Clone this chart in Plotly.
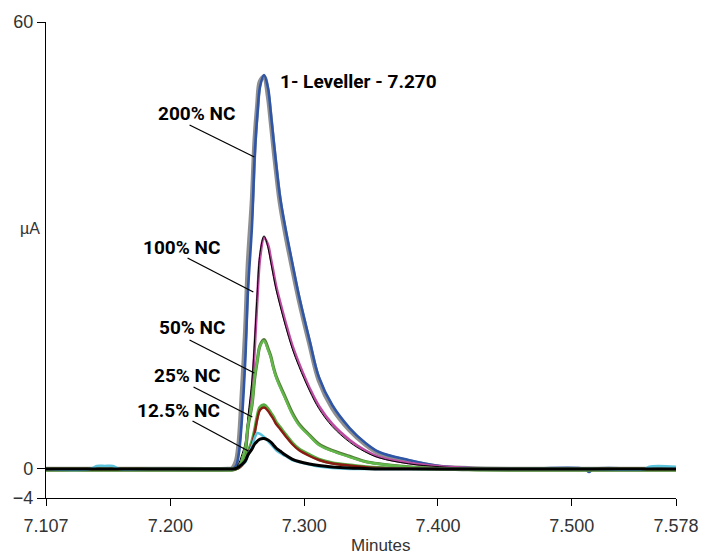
import plotly.graph_objects as go

# ---------------- data ----------------
minutes = [7.107, 7.140, 7.145, 7.151, 7.157, 7.162, 7.185, 7.243, 7.246, 7.249,
           7.251, 7.253, 7.256, 7.258, 7.261, 7.263, 7.265, 7.267, 7.270, 7.273,
           7.275, 7.277, 7.279, 7.282, 7.286, 7.291, 7.296, 7.304, 7.311, 7.321,
           7.334, 7.345, 7.356, 7.378, 7.401, 7.423, 7.460, 7.510, 7.513, 7.516,
           7.555, 7.558, 7.578]

nc200_a = [-0.1, -0.1, -0.1, -0.1, -0.1, -0.1, -0.1, -0.1, -0.05, 0.9,
           3.2, 8.5, 18.5, 27.5, 36.0, 44.0, 48.8, 52.0, 52.6, 50.0,
           46.8, 43.3, 40.0, 35.6, 31.5, 27.0, 22.7, 16.7, 11.8, 8.1,
           5.1, 3.3, 2.0, 0.95, 0.2, 0.0, -0.1, -0.1, -0.1, -0.1,
           -0.1, -0.1, -0.1]
nc200_b = [-0.1, -0.1, -0.1, -0.1, -0.1, -0.1, -0.1, -0.1, -0.1, 0.30,
           1.78, 5.41, 14.56, 23.83, 32.57, 41.85, 47.50, 51.26, 52.87, 51.13,
           47.90, 44.40, 41.04, 36.47, 32.30, 27.73, 23.29, 17.24, 12.27, 8.50,
           5.41, 3.53, 2.19, 1.11, 0.30, 0.03, -0.1, -0.1, -0.5, -0.1,
           -0.1, -0.1, -0.1]
nc100_a = [-0.1, -0.1, -0.1, -0.1, -0.1, -0.1, -0.1, -0.1, -0.1, -0.03,
           0.30, 0.84, 2.19, 5.55, 10.52, 16.17, 22.89, 28.27, 30.96, 30.02,
           28.27, 26.39, 24.50, 22.35, 19.66, 16.57, 14.15, 10.79, 8.37, 5.95,
           3.80, 2.45, 1.51, 0.71, 0.24, 0.03, -0.1, -0.1, -0.1, -0.1,
           -0.1, -0.1, -0.1]
nc100_b = [-0.1, -0.1, -0.1, -0.1, -0.1, -0.1, -0.1, -0.1, -0.1, 0.1,
           0.6, 1.6, 3.5, 7.0, 12.0, 17.5, 24.0, 29.0, 31.27, 29.6,
           27.7, 25.8, 24.0, 21.8, 19.1, 16.1, 13.7, 10.4, 8.0, 5.6,
           3.5, 2.25, 1.4, 0.6, 0.2, 0.0, -0.1, -0.1, -0.1, -0.1,
           -0.1, -0.1, -0.1]
nc50_a = [-0.25, -0.25, -0.25, -0.25, -0.25, -0.25, -0.25, -0.25, -0.25, -0.1,
          0.1, 0.7, 2.5, 5.6, 8.5, 12.1, 14.5, 16.5, 17.3, 16.1,
          15.1, 13.6, 12.4, 11.1, 9.5, 7.5, 6.0, 4.45, 3.25, 2.4,
          1.6, 0.95, 0.6, 0.2, -0.05, -0.2, -0.25, -0.25, -0.25, -0.25,
          -0.25, -0.25, -0.25]
nc50_b = [-0.25, -0.25, -0.25, -0.25, -0.25, -0.25, -0.25, -0.25, -0.25, -0.03,
          0.17, 0.84, 2.72, 5.82, 8.64, 12.27, 14.56, 16.44, 17.11, 15.90,
          14.96, 13.48, 12.27, 10.92, 9.31, 7.29, 5.82, 4.34, 3.13, 2.32,
          1.51, 0.91, 0.57, 0.17, -0.03, -0.2, -0.25, -0.25, -0.25, -0.25,
          -0.25, -0.25, -0.25]
nc25_a = [-0.1, -0.1, -0.1, -0.1, -0.1, -0.1, -0.1, -0.1, -0.1, -0.05,
          0.1, 0.45, 1.2, 2.2, 3.6, 5.1, 7.0, 8.2, 8.5, 8.0,
          7.45, 6.9, 6.2, 5.5, 4.55, 3.45, 2.6, 1.8, 1.2, 0.72,
          0.42, 0.2, 0.06, -0.02, -0.1, -0.1, -0.1, -0.1, -0.1, -0.1,
          -0.1, -0.1, -0.1]
nc25_b = [-0.1, -0.1, -0.1, -0.1, -0.1, -0.1, -0.1, -0.1, -0.1, -0.1,
          0.03, 0.30, 0.98, 1.92, 3.26, 4.74, 6.62, 7.83, 8.17, 7.70,
          7.16, 6.62, 5.95, 5.28, 4.34, 3.26, 2.45, 1.65, 1.11, 0.64,
          0.37, 0.17, 0.03, -0.03, -0.1, -0.1, -0.1, -0.1, -0.1, -0.1,
          -0.1, -0.1, -0.1]
nc12_a = [-0.1, -0.1, 0.3, 0.3, 0.3, -0.1, -0.1, -0.1, -0.1, -0.03,
          0.17, 0.44, 0.84, 1.78, 2.99, 4.07, 4.74, 4.61, 4.20, 3.66,
          3.26, 2.86, 2.45, 2.05, 1.65, 1.11, 0.84, 0.50, 0.24, 0.03,
          -0.1, -0.1, -0.1, -0.1, -0.1, -0.1, -0.1, -0.1, -0.1, -0.1,
          -0.1, 0.2, 0.2]
nc12_b = [-0.1, -0.1, -0.1, -0.1, -0.1, -0.1, -0.1, -0.1, -0.1, -0.03,
          0.17, 0.44, 0.98, 1.78, 2.59, 3.26, 3.66, 3.93, 4.00, 3.80,
          3.53, 3.13, 2.72, 2.32, 1.78, 1.24, 0.91, 0.57, 0.37, 0.17,
          0.03, -0.03, -0.1, -0.1, -0.1, -0.1, -0.1, -0.1, -0.1, -0.1,
          -0.1, -0.1, -0.1]

series = [
    ("200% NC (a)", nc200_a, "#8f8f8f", 4.5),
    ("200% NC (b)", nc200_b, "#2f56a6", 2.6),
    ("100% NC (a)", nc100_a, "#bc4ca2", 2.8),
    ("100% NC (b)", nc100_b, "#000000", 1.0),
    ("50% NC (a)", nc50_a, "#557a3a", 3.2),
    ("50% NC (b)", nc50_b, "#62b84a", 2.4),
    ("25% NC (a)", nc25_a, "#55ab40", 3.4),
    ("25% NC (b)", nc25_b, "#8a1a12", 2.4),
    ("12.5% NC (a)", nc12_a, "#5cc3dc", 2.6),
    ("12.5% NC (b)", nc12_b, "#000000", 3.0),
]

y_ticks = [-4, 0, 60]
x_ticks = [7.107, 7.200, 7.300, 7.400, 7.500, 7.578]
x_tick_text = ["7.107", "7.200", "7.300", "7.400", "7.500", "7.578"]

peak_label = "1- Leveller - 7.270"
conc_labels = ["200% NC", "100% NC", "50% NC", "25% NC", "12.5% NC"]

# ---------------- figure ----------------
W, H = 711, 555
L, R, T, B = 46, 33, 22, 57
pw, ph = W - L - R, H - T - B


def px(x):
    return (x - L) / pw


def py(y):
    return (H - B - y) / ph


fig = go.Figure()
for name, vals, color, width in series:
    fig.add_trace(go.Scatter(
        x=minutes, y=vals, mode="lines", name=name,
        line=dict(color=color, width=width, shape="spline", smoothing=1.0),
        showlegend=False, hoverinfo="skip"))

bold_font = dict(family="Roboto, Liberation Sans, sans-serif", weight="bold",
                 size=19, color="#000000")

annotations = [
    dict(text=peak_label, x=px(279), y=py(81), xanchor="left"),
    dict(text=conc_labels[0], x=px(156), y=py(113), xanchor="left"),
    dict(text=conc_labels[1], x=px(141), y=py(247), xanchor="left"),
    dict(text=conc_labels[2], x=px(157), y=py(328), xanchor="left"),
    dict(text=conc_labels[3], x=px(152), y=py(375), xanchor="left"),
    dict(text=conc_labels[4], x=px(135), y=py(410), xanchor="left"),
]
for a in annotations:
    a.update(xref="paper", yref="paper", yanchor="middle", showarrow=False, font=bold_font)

plain_font = dict(family="Liberation Sans, Arial, sans-serif", size=17, color="#333333")
annotations.append(dict(text="µA", x=px(30), y=py(228), xref="paper", yref="paper",
                        xanchor="center", yanchor="middle", showarrow=False,
                        font=dict(family="Liberation Sans, Arial, sans-serif", size=16, color="#333333")))
annotations.append(dict(text="Minutes", x=px(382), y=py(545), xref="paper", yref="paper",
                        xanchor="center", yanchor="middle", showarrow=False, font=plain_font))

leaders = [((190, 125), (255, 157)),
           ((188, 258), (254, 292)),
           ((190, 340), (255, 373)),
           ((194, 387), (253, 417)),
           ((193, 421), (249, 451))]
shapes = []
for (x0, y0), (x1, y1) in leaders:
    shapes.append(dict(type="line", xref="paper", yref="paper",
                       x0=px(x0), y0=py(y0), x1=px(x1), y1=py(y1),
                       line=dict(color="#000000", width=1.3)))

tick_font = dict(family="Liberation Sans, Arial, sans-serif", size=18, color="#333333")

fig.update_layout(
    width=W, height=H,
    margin=dict(l=L, r=R, t=T, b=B),
    paper_bgcolor="white", plot_bgcolor="white",
    annotations=annotations, shapes=shapes,
    xaxis=dict(range=[7.107, 7.578], tickvals=x_ticks, ticktext=x_tick_text,
               ticks="outside", ticklen=7, tickwidth=1.3, tickcolor="#000",
               showline=True, linecolor="#000", linewidth=1.3,
               showgrid=False, zeroline=False, tickfont=tick_font,
               ticklabelstandoff=4),
    yaxis=dict(range=[-4, 60], tickvals=y_ticks,
               ticks="outside", ticklen=8, tickwidth=1.3, tickcolor="#000",
               showline=True, linecolor="#000", linewidth=1.3,
               showgrid=False, zeroline=False, tickfont=tick_font),
)

fig.write_html("out.html")
